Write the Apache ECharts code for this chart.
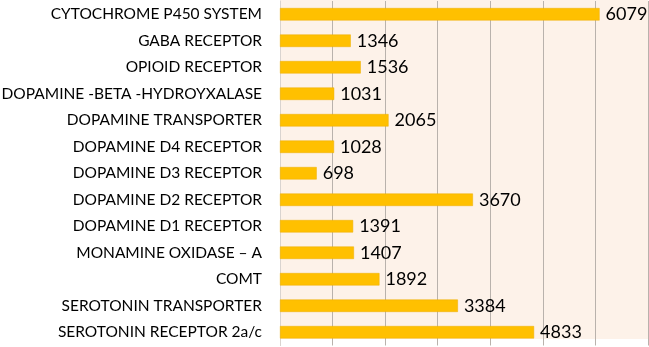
<!DOCTYPE html>
<html><head><meta charset="utf-8">
<script src="https://cdn.jsdelivr.net/npm/echarts@6/dist/echarts.min.js"></script>
<style>html,body{margin:0;padding:0;background:#fff}#c{width:649px;height:347px}</style>
</head><body><div id="c"></div>
<script>
const categories = ["CYTOCHROME P450 SYSTEM","GABA RECEPTOR","OPIOID RECEPTOR","DOPAMINE -BETA -HYDROYXALASE","DOPAMINE TRANSPORTER","DOPAMINE D4 RECEPTOR","DOPAMINE D3 RECEPTOR","DOPAMINE D2 RECEPTOR","DOPAMINE D1 RECEPTOR","MONAMINE OXIDASE \u2013 A","COMT","SEROTONIN TRANSPORTER","SEROTONIN RECEPTOR 2a/c"];
const values = [6079,1346,1536,1031,2065,1028,698,3670,1391,1407,1892,3384,4833];
const xMin = 0, xMax = 7000, xStep = 1000;

const chart = echarts.init(document.getElementById('c'), null, {renderer:'canvas'});
chart.setOption({
  animation:false,
  graphic:[{type:'rect', z:-10, shape:{x:280,y:0,width:368,height:339}, style:{fill:'#FDF2E9'}, silent:true}],
  grid:{left:280, right:1, top:1, bottom:1.5, containLabel:false, outerBoundsMode:'none'},
  xAxis:{type:'value', min:xMin, max:xMax, interval:xStep,
    axisLabel:{show:false}, axisTick:{show:false}, axisLine:{show:false},
    splitLine:{show:true, lineStyle:{color:'#B9B2AC', width:1}}},
  yAxis:{type:'category', data:categories, inverse:true,
    axisLine:{show:true, lineStyle:{color:'#D9D4D0'}}, axisTick:{show:false},
    axisLabel:{margin:18, fontFamily:'Lato', fontSize:15.5, color:'#000'}},
  series:[{type:'bar', data:values, barWidth:'47%',
    itemStyle:{color:'#FFC000', borderColor:'#EDAE00', borderWidth:0.5},
    label:{show:true, position:'right', distance:6, fontFamily:'Lato', fontSize:18, color:'#000'}}]
});
</script></body></html>
